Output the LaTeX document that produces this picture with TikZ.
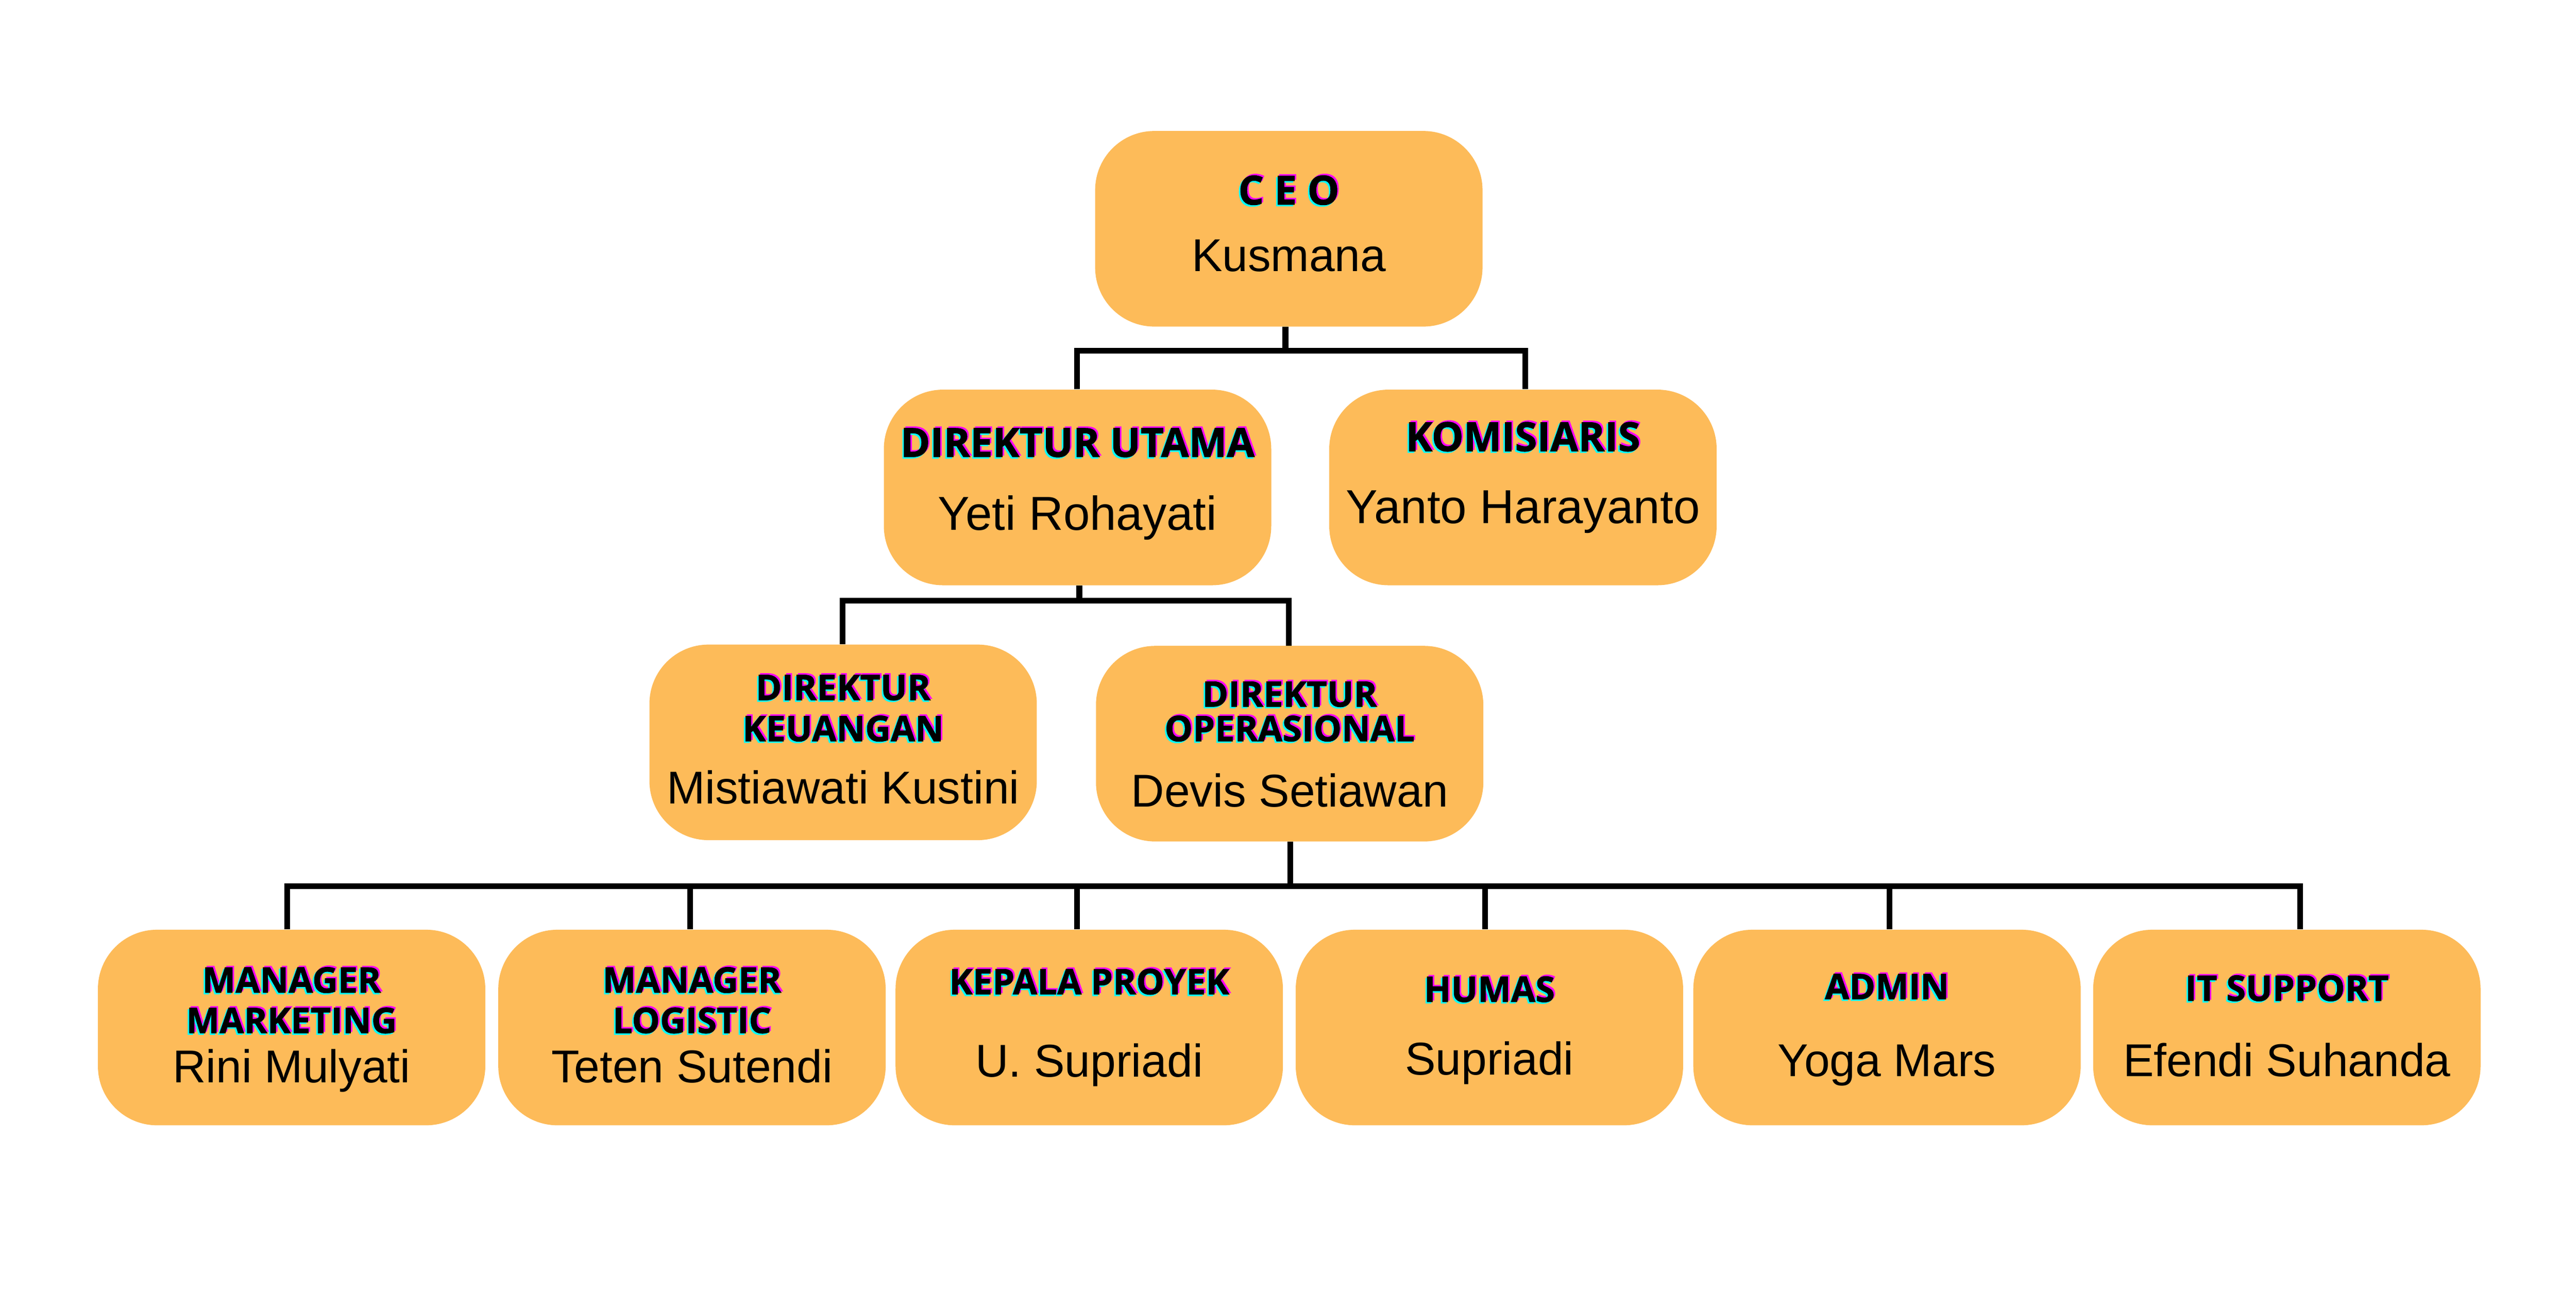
\documentclass[tikz,border=0pt]{standalone}
\usepackage{fontspec}
\newfontfamily\tfont{Open Sans}[BoldFeatures={FakeBold=1.2}]
\newfontfamily\nfont{Liberation Sans}
\definecolor{boxc}{RGB}{253,187,89}
\definecolor{gmag}{RGB}{255,0,255}
\definecolor{gcyan}{RGB}{0,255,255}
\newcommand\glitch[1]{\makebox[0pt][l]{\hspace*{0.9pt}\raisebox{0.9pt}{\color{gmag}#1}}\makebox[0pt][l]{\hspace*{-0.9pt}\raisebox{-0.9pt}{\color{gcyan}#1}}#1}
\begin{document}
\begin{tikzpicture}[x=1pt,y=-1pt,
  box/.style={fill=boxc,rounded corners=36pt,minimum width=235.8pt,minimum height=119pt,inner sep=0pt},
  ttl/.style={anchor=base,inner sep=0pt,font=\tfont\bfseries\fontsize{21.5}{21.5}\selectfont},
  bigttl/.style={anchor=base,inner sep=0pt,font=\tfont\bfseries\fontsize{24.5}{24.5}\selectfont},
  nm/.style={anchor=base,inner sep=0pt,font=\nfont\fontsize{28}{28}\selectfont},
  bignm/.style={anchor=base,inner sep=0pt,font=\nfont\fontsize{29}{29}\selectfont},
  conn/.style={line width=3.5pt}]
\fill[white] (0,0) rectangle (1568,784);
\useasboundingbox (0,0) rectangle (1568,784);

% boxes
\node[box] (ceo) at (784.5,139.2) {};
\node[box] (du) at (655.9,296.6) {};
\node[box] (kom) at (927,296.6) {};
\node[box] (dk) at (513.2,451.7) {};
\node[box] (do) at (785,452.5) {};
\node[box] (mm) at (177.5,625.2) {};
\node[box] (ml) at (421.2,625.2) {};
\node[box] (kp) at (663,625.2) {};
\node[box] (hm) at (906.6,625.2) {};
\node[box] (ad) at (1148.6,625.2) {};
\node[box] (it) at (1392,625.2) {};

% texts
\node[bigttl] (ceoT) at (784.5,124.5) {\glitch{C E O}};
\node[nm] (ceoN) at (784.5,165) {Kusmana};

\node[bigttl] (duT) at (655.9,278) {\glitch{DIREKTUR UTAMA}};
\node[bignm] (duN) at (655.9,322.6) {Yeti Rohayati};

\node[bigttl] (komT) at (927,274.5) {\glitch{KOMISIARIS}};
\node[bignm] (komN) at (927,318.5) {Yanto Harayanto};

\node[ttl] (dkT1) at (513.2,426) {\glitch{DIREKTUR}};
\node[ttl] (dkT2) at (513.2,451) {\glitch{KEUANGAN}};
\node[nm] (dkN) at (513.2,489) {Mistiawati Kustini};

\node[ttl] (doT1) at (785,430) {\glitch{DIREKTUR}};
\node[ttl] (doT2) at (785,451) {\glitch{OPERASIONAL}};
\node[nm] (doN) at (785,491) {Devis Setiawan};

\node[ttl] (mmT1) at (177.5,604) {\glitch{MANAGER}};
\node[ttl] (mmT2) at (177.5,628.6) {\glitch{MARKETING}};
\node[nm] (mmN) at (177.5,658.6) {Rini Mulyati};

\node[ttl] (mlT1) at (421.2,604) {\glitch{MANAGER}};
\node[ttl] (mlT2) at (421.2,628.6) {\glitch{LOGISTIC}};
\node[nm] (mlN) at (421.2,658.6) {Teten Sutendi};

\node[ttl] (kpT) at (663,605) {\glitch{KEPALA PROYEK}};
\node[nm] (kpN) at (663,655.3) {U. Supriadi};

\node[ttl] (hmT) at (906.6,609.6) {\glitch{HUMAS}};
\node[nm] (hmN) at (906.6,654) {Supriadi};

\node[ttl] (adT) at (1148.6,608) {\glitch{ADMIN}};
\node[nm] (adN) at (1148.6,655) {Yoga Mars};

\node[ttl] (itT) at (1392,609) {\glitch{IT SUPPORT}};
\node[nm] (itN) at (1392,655) {Efendi Suhanda};

% connector coordinates
\coordinate (c0) at (782.4,213.5);
\coordinate (b1L) at (655.6,213.5);
\coordinate (b1R) at (928.5,213.5);
\coordinate (m0) at (657,365.6);
\coordinate (m1L) at (513,365.6);
\coordinate (m1R) at (784.5,365.6);
\coordinate (b0) at (785.4,539.2);
\coordinate (bL) at (174.7,539.2);
\coordinate (bR) at (1400,539.2);
\coordinate (q2) at (420,539.2);
\coordinate (q3) at (655.6,539.2);
\coordinate (q4) at (904,539.2);
\coordinate (q5) at (1150,539.2);

% connectors
\draw[conn] (ceo.south -| c0) -- (c0);
\draw[conn] (du.north -| b1L) -- (b1L) -- (b1R) -- (kom.north -| b1R);
\draw[conn] (du.south -| m0) -- (m0);
\draw[conn] (dk.north -| m1L) -- (m1L) -- (m1R) -- (do.north -| m1R);
\draw[conn] (do.south -| b0) -- (b0);
\draw[conn] (mm.north -| bL) -- (bL) -- (bR) -- (it.north -| bR);
\draw[conn] (q2) -- (ml.north -| q2);
\draw[conn] (q3) -- (kp.north -| q3);
\draw[conn] (q4) -- (hm.north -| q4);
\draw[conn] (q5) -- (ad.north -| q5);
\end{tikzpicture}
\end{document}
